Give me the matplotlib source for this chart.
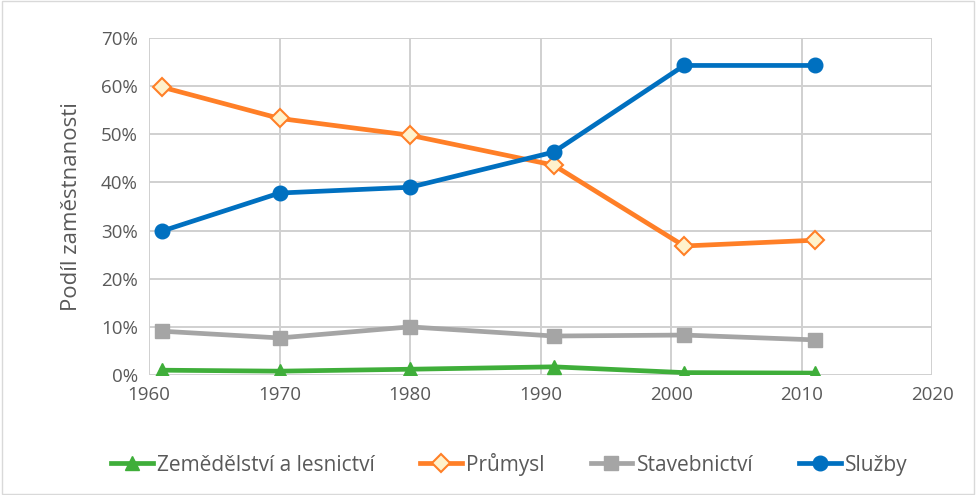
import matplotlib
matplotlib.use("Agg")
import matplotlib.pyplot as plt
from matplotlib.ticker import FuncFormatter

years = [1961, 1970, 1980, 1991, 2001, 2011]
zemedelstvi = [1.0, 0.8, 1.2, 1.7, 0.5, 0.4]
prumysl = [59.8, 53.3, 49.8, 43.6, 26.8, 28.0]
stavebnictvi = [9.1, 7.7, 10.0, 8.1, 8.3, 7.3]
sluzby = [29.9, 37.8, 39.0, 46.3, 64.3, 64.3]

ink = "#595959"
plt.rcParams["font.family"] = ["Open Sans", "DejaVu Sans"]

fig = plt.figure(figsize=(9.76, 4.95), dpi=100)
ax = fig.add_axes([0.1527, 0.2424, 0.8023, 0.6808])

ax.plot(years, zemedelstvi, color="#3FAE3A", lw=3.4, marker="^", ms=10,
        label="Zemědělství a lesnictví", zorder=3)
ax.plot(years, prumysl, color="#FF7F27", lw=3.4, marker="D", ms=9.5,
        mfc="#FFF2CC", mec="#FF7F27", mew=1.5, label="Průmysl", zorder=3)
ax.plot(years, stavebnictvi, color="#A5A5A5", lw=3.4, marker="s", ms=9.5,
        label="Stavebnictví", zorder=3)
ax.plot(years, sluzby, color="#0070C0", lw=3.4, marker="o", ms=10.5,
        label="Služby", zorder=3)

ax.set_xlim(1960, 2020)
ax.set_ylim(0, 70)
ax.set_xticks(range(1960, 2021, 10))
ax.set_yticks(range(0, 71, 10))
ax.yaxis.set_major_formatter(FuncFormatter(lambda v, _: f"{v:.0f}%"))
ax.grid(True, color="#D0D0D0", lw=1.4)
ax.set_axisbelow(True)
for s in ax.spines.values():
    s.set_visible(False)
ax.tick_params(length=0, labelsize=13.5, colors=ink, pad=8)
ax.set_ylabel("Podíl zaměstnanosti", fontsize=16, color=ink, labelpad=14)

ax.legend(loc="upper center", bbox_to_anchor=(0.46, -0.175), ncol=4,
          frameon=False, fontsize=15, labelcolor=ink, handlelength=2.0,
          handletextpad=0.2, columnspacing=2.2)

fig.patches.append(plt.Rectangle((0.002, 0.002), 0.996, 0.996,
                                 transform=fig.transFigure, fill=False,
                                 edgecolor="#D9D9D9", lw=1))
fig.savefig("out.png", dpi=100)
